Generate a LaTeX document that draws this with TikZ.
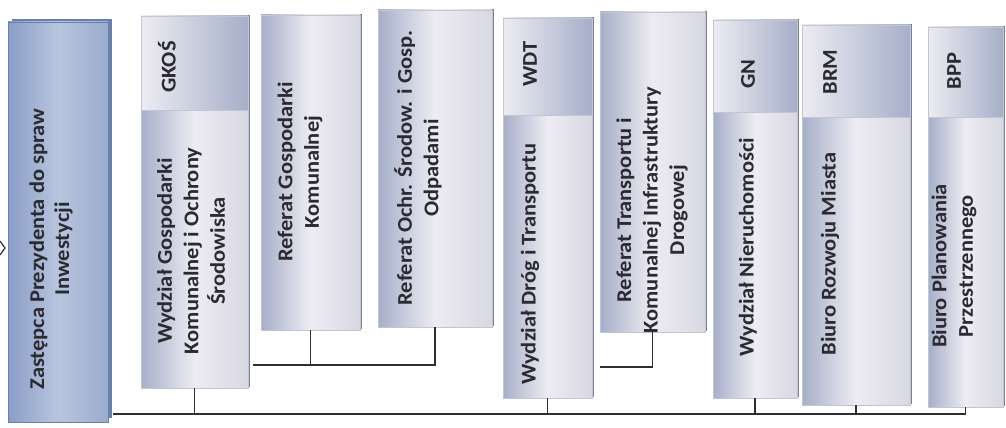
\documentclass[tikz,border=0pt]{standalone}
\usepackage{fontspec}
\setmainfont{Carlito}
\definecolor{boxblue}{HTML}{A6AFC9}
\definecolor{boxlight}{HTML}{EDECF2}
\definecolor{boxmid}{HTML}{D8D8E3}
\definecolor{mainA}{HTML}{8A9DC6}
\definecolor{mainB}{HTML}{B8C5DE}
\definecolor{mainback}{HTML}{6A80A9}
\definecolor{edgec}{HTML}{C3C6D2}
\definecolor{shadec}{HTML}{7A8096}
\definecolor{txt}{HTML}{2A2A30}
\definecolor{linec}{HTML}{2E2E33}
\newcommand\orgunit[5]{%
  \fill[shadec] (#2+2,#3-1) rectangle (#4+2,#5-1);
  \node[unitbox, minimum width={#4-#2}, minimum height={#5-#3}] (#1) at ({(#2+#4)/2},{(#3+#5)/2}) {};}
\newcommand\orghead[5]{%
  \node[headbox, minimum width={#4-#2}, minimum height={#5-#3}] (#1) at ({(#2+#4)/2},{(#3+#5)/2}) {};}
\tikzset{
  unitbox/.style={draw=edgec, line width=0.4pt, inner sep=0pt, outer sep=0pt,
    left color=boxblue, right color=boxmid, middle color=boxlight},
  headbox/.style={draw=edgec, line width=0.4pt, inner sep=0pt, outer sep=0pt,
    shading angle=60, left color=boxlight, right color=boxblue},
  mainbox/.style={draw=mainback, line width=0.6pt, inner sep=0pt, outer sep=0pt,
    left color=mainA, right color=mainA!85!white, middle color=mainB},
  lbl/.style={rotate=90, xscale=1.07, align=center, text=txt, inner sep=0pt,
    font=\fontsize{21}{26.5}\selectfont\bfseries},
  mainlbl/.style={rotate=90, xscale=1.07, align=center, text=txt, inner sep=0pt,
    font=\fontsize{21}{25}\selectfont\bfseries},
  conn/.style={draw=linec, line width=1.3pt}
}
\begin{document}
\begin{tikzpicture}[x=1pt,y=-1pt]
\useasboundingbox (0,0) rectangle (1006,428);
% main box
\fill[mainback] (12,19) rectangle (112,418);
\node[mainbox, minimum width=100, minimum height=400] (main) at (58,222) {};
\node[mainlbl] (maint) at (51,249) {Zastępca Prezydenta do spraw\\Inwestycji};
\draw[linec, line width=1.2pt] (0,241) -- (5,248) -- (0,255);
% units
\orgunit{b1}{141}{16}{248}{388}
\orghead{h1}{141}{16}{248}{110}
\orgunit{b2}{261}{15}{360}{330}
\orgunit{b3}{378}{10}{492}{327}
\orgunit{b4}{503}{18}{592}{398}
\orghead{h4}{503}{18}{592}{115}
\orgunit{b5}{600}{12}{705}{332}
\orgunit{b6}{713}{20}{797}{398}
\orghead{h6}{713}{20}{797}{112}
\orgunit{b7}{802}{25}{910}{405}
\orghead{h7}{802}{25}{910}{117}
\orgunit{b8}{928}{27}{1003}{407}
\orghead{h8}{928}{27}{1003}{117}
% header labels
\node[lbl] (t1h) at (167,67) {GKOŚ};
\node[lbl] (t4h) at (530,64) {WDT};
\node[lbl] (t6h) at (748,74) {GN};
\node[lbl] (t7h) at (830,72) {BRM};
\node[lbl] (t8h) at (954,71) {BPP};
% body labels
\node[lbl] (t1) at (191,251) {Wydział Gospodarki\\Komunalnej i Ochrony\\Środowiska};
\node[lbl] (t2) at (300,172) {Referat Gospodarki\\Komunalnej};
\node[lbl] (t3) at (418,168) {Referat Ochr. Środow. i Gosp.\\Odpadami};
\node[lbl] (t4) at (530,264) {Wydział Dróg i Transportu};
\node[lbl] (t5) at (652,210) {Referat Transportu i\\Komunalnej Infrastruktury\\Drogowej};
\node[lbl] (t6) at (748,247) {Wydział Nieruchomości};
\node[lbl] (t7) at (830,254) {Biuro Rozwoju Miasta};
\node[lbl] (t8) at (954,266) {Biuro Planowania\\Przestrzennego};
% connectors
\coordinate (L0) at (113,414);
\coordinate (S1) at (253,365);
\coordinate (S2) at (600,367);
\draw[conn] (L0) -- (b8.south |- L0) -- (b8.south);
\draw[conn] (b1.south) -- (b1.south |- L0);
\draw[conn] (b4.south) -- (b4.south |- L0);
\draw[conn] (b6.south) -- (b6.south |- L0);
\draw[conn] (b7.south) -- (b7.south |- L0);
\draw[conn] (S1) -- (b3.south |- S1) -- (b3.south);
\draw[conn] (b2.south) -- (b2.south |- S1);
\draw[conn] (S2) -- (b5.south |- S2) -- (b5.south);
\end{tikzpicture}
\end{document}
